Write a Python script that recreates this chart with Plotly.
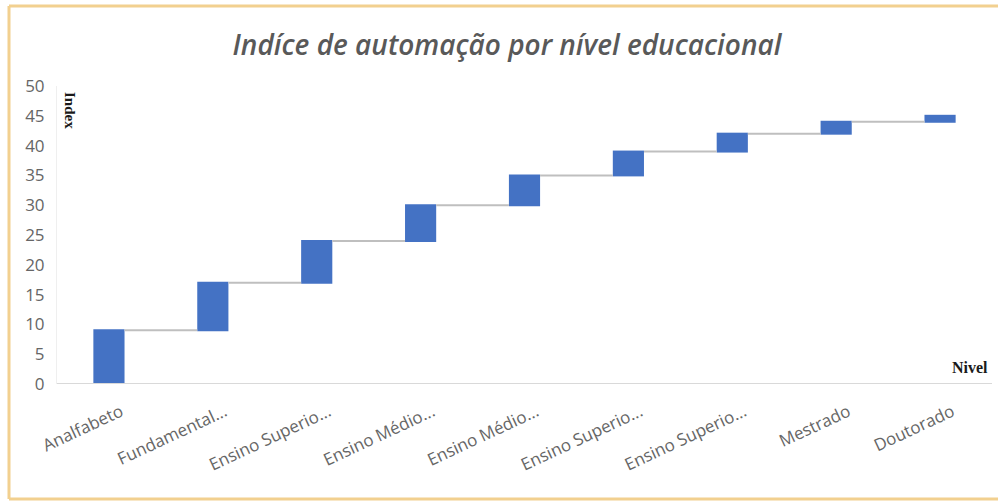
import plotly.graph_objects as go

# Education levels (as shown on the axis) and the automation index added at each level
levels = [
    "Analfabeto",
    "Fundamental...",
    "Ensino Superio...",
    "Ensino Médio...",
    "Ensino Médio...",
    "Ensino Superio...",
    "Ensino Superio...",
    "Mestrado",
    "Doutorado",
]
increments = [9, 8, 7, 6, 5, 4, 3, 2, 1]
y_ticks = [0, 5, 10, 15, 20, 25, 30, 35, 40, 45, 50]

W, H = 998, 503
ML, MR, MT, MB = 57, 6, 86, 119

positions = list(range(len(levels)))

fig = go.Figure(
    go.Waterfall(
        x=positions,
        y=increments,
        measure=["relative"] * len(increments),
        width=0.3,
        increasing=dict(marker=dict(color="#4472C4", line=dict(width=0))),
        connector=dict(mode="between", line=dict(color="#BFBFBF", width=2)),
        showlegend=False,
        hoverinfo="x+y",
    )
)

plot_w = W - ML - MR
plot_h = H - MT - MB


def px_x(px):
    return (px - ML) / plot_w


def px_y(py):
    return (H - MB - py) / plot_h


tick_font = dict(family="Open Sans, sans-serif", size=17, color="#666666")
frame = dict(color="#F2D08F", width=3)

fig.update_layout(
    width=W,
    height=H,
    margin=dict(l=ML, r=MR, t=MT, b=MB),
    paper_bgcolor="white",
    plot_bgcolor="white",
    title=dict(
        text="<i>Indíce de automação por nível educacional</i>",
        x=0.508,
        xanchor="center",
        y=1 - 45 / H,
        yanchor="middle",
        font=dict(family="Open Sans, sans-serif", size=28, color="#595959",
                  weight=600),
    ),
    xaxis=dict(
        tickmode="array",
        tickvals=positions,
        ticktext=levels,
        tickangle=-25,
        tickfont=tick_font,
        range=[-0.5, len(levels) - 0.5],
        showgrid=False,
        zeroline=False,
        showline=False,
        ticks="",
        ticklabelstandoff=14,
        ticklabelshift=12,
    ),
    yaxis=dict(
        range=[0, 50],
        tickmode="array",
        tickvals=y_ticks,
        tickfont=tick_font,
        showgrid=False,
        zeroline=False,
        showline=True,
        linecolor="#EFEFEF",
        linewidth=1,
        ticks="",
        ticklabelstandoff=8,
    ),
    shapes=[
        # category axis baseline
        dict(type="line", xref="paper", yref="y", x0=0, x1=1, y0=0, y1=0,
             line=dict(color="#D9D9D9", width=2)),
        # outer frame: left, top and bottom edges
        dict(type="line", xref="paper", yref="paper",
             x0=px_x(9), x1=px_x(9), y0=px_y(499), y1=px_y(6), line=frame),
        dict(type="line", xref="paper", yref="paper",
             x0=px_x(9), x1=px_x(W + 10), y0=px_y(6), y1=px_y(6), line=frame),
        dict(type="line", xref="paper", yref="paper",
             x0=px_x(9), x1=px_x(W + 10), y0=px_y(499), y1=px_y(499), line=frame),
    ],
    annotations=[
        dict(text="<b>Index</b>", xref="paper", yref="paper",
             x=px_x(70), y=px_y(110), textangle=90, showarrow=False,
             xanchor="center", yanchor="middle",
             font=dict(family="Liberation Serif, serif", size=15, color="#1a1a1a")),
        dict(text="<b>Nivel</b>", xref="paper", yref="paper",
             x=px_x(970), y=px_y(367), showarrow=False,
             xanchor="center", yanchor="middle",
             font=dict(family="Liberation Serif, serif", size=16, color="#1a1a1a")),
    ],
)

fig.write_html("out.html")
